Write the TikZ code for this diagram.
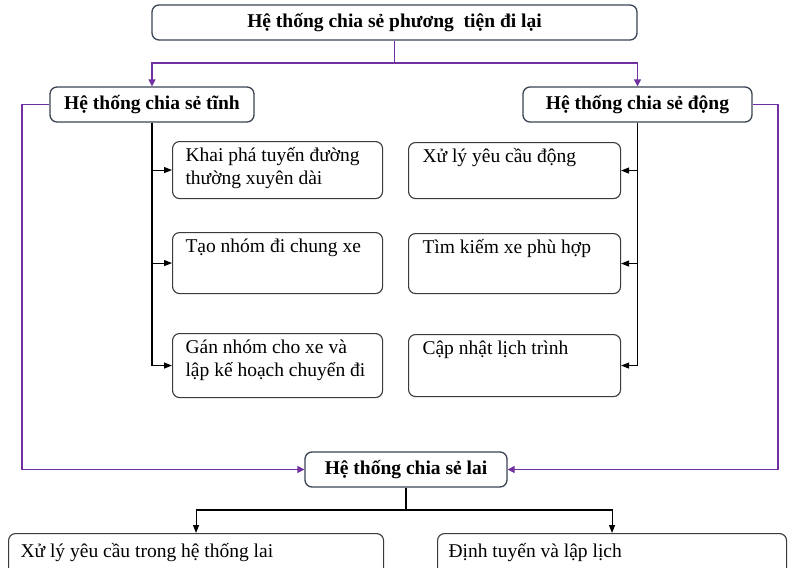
\documentclass[tikz,border=0pt]{standalone}
\usepackage{fontspec}
\setmainfont{Liberation Serif}
\usetikzlibrary{arrows.meta}
\definecolor{pur}{HTML}{7030A0}
\definecolor{mainborder}{HTML}{3A4452}
\definecolor{childborder}{HTML}{3A3A3A}
\tikzset{
  mainbox/.style={draw=mainborder, line width=1.3pt, rounded corners=7pt, fill=white,
    font=\fontsize{19.5}{23.5}\selectfont\bfseries, inner sep=0pt, anchor=center},
  childbox/.style={draw=childborder, line width=1.1pt, rounded corners=7pt, fill=white,
    font=\fontsize{19.5}{23.5}\selectfont, inner ysep=3pt, anchor=north west},
  purline/.style={draw=pur, line width=1.2pt},
  purarrow/.style={purline, -{Triangle[length=7pt,width=7pt]}},
  blkline/.style={draw=black, line width=1.1pt},
  blkarrow/.style={blkline, -{Triangle[length=8pt,width=6pt]}}
}
\newcommand{\boxtext}[3]{\parbox[t][#1][t]{#2}{\strut #3}}
\begin{document}
\begin{tikzpicture}[x=1pt,y=-1pt]
\useasboundingbox (0,0) rectangle (788,568);
\clip (0,0) rectangle (788,568);

% main boxes
\node[mainbox, minimum width=485pt, minimum height=35pt] (top) at (394.5,22.5) {Hệ thống chia sẻ phương~ tiện đi lại};
\node[mainbox, minimum width=204pt, minimum height=35pt] (static) at (152,104.5) {Hệ thống chia sẻ tĩnh};
\node[mainbox, minimum width=229pt, minimum height=35pt] (dyn) at (637.5,104.5) {Hệ thống chia sẻ động};
\node[mainbox, minimum width=202pt, minimum height=35pt] (lai) at (406,469.5) {Hệ thống chia sẻ lai};

% static children
\node[childbox, inner xsep=13pt] (s1) at (172,141) {\boxtext{51pt}{184pt}{Khai phá tuyến đường\\thường xuyên dài}};
\node[childbox, inner xsep=13pt] (s2) at (172,232) {\boxtext{55pt}{184pt}{Tạo nhóm đi chung xe}};
\node[childbox, inner xsep=13pt] (s3) at (172,333) {\boxtext{58pt}{184pt}{Gán nhóm cho xe và\\lập kế hoạch chuyển đi}};

% dynamic children
\node[childbox, inner xsep=14pt] (d1) at (408,142) {\boxtext{50pt}{184pt}{Xử lý yêu cầu động}};
\node[childbox, inner xsep=14pt] (d2) at (408,233) {\boxtext{54pt}{184pt}{Tìm kiếm xe phù hợp}};
\node[childbox, inner xsep=14pt] (d3) at (408,334) {\boxtext{56pt}{184pt}{Cập nhật lịch trình}};

% hybrid children
\node[childbox, inner xsep=12pt, inner ysep=7pt] (h1) at (8,533) {\boxtext{40pt}{351pt}{Xử lý yêu cầu trong hệ thống lai}};
\node[childbox, inner xsep=11pt, inner ysep=7pt] (h2) at (437,533) {\boxtext{40pt}{327pt}{Định tuyến và lập lịch}};

% top split
\coordinate (tj) at (394.5,63);
\draw[purline] (top.south) -- (tj);
\draw[purarrow] (tj) -| (static.north);
\draw[purarrow] (tj) -| (dyn.north);

% side loops to hybrid
\coordinate (lc) at (22,104.5);
\coordinate (rc) at (778,104.5);
\draw[purarrow] (static.west) -- (lc) |- (lai.west);
\draw[purarrow] (dyn.east) -- (rc) |- (lai.east);

% static trunk
\draw[blkarrow] (static.south) |- (s3.west);
\draw[blkarrow] (static.south |- s1.west) -- (s1.west);
\draw[blkarrow] (static.south |- s2.west) -- (s2.west);

% dynamic trunk
\draw[blkarrow] (dyn.south) |- (d3.east);
\draw[blkarrow] (dyn.south |- d1.east) -- (d1.east);
\draw[blkarrow] (dyn.south |- d2.east) -- (d2.east);

% hybrid split
\coordinate (lj) at (406,510);
\draw[blkline] (lai.south) -- (lj);
\draw[blkarrow] (lj) -| (h1.north);
\draw[blkarrow] (lj) -| (h2.north);
\end{tikzpicture}
\end{document}
